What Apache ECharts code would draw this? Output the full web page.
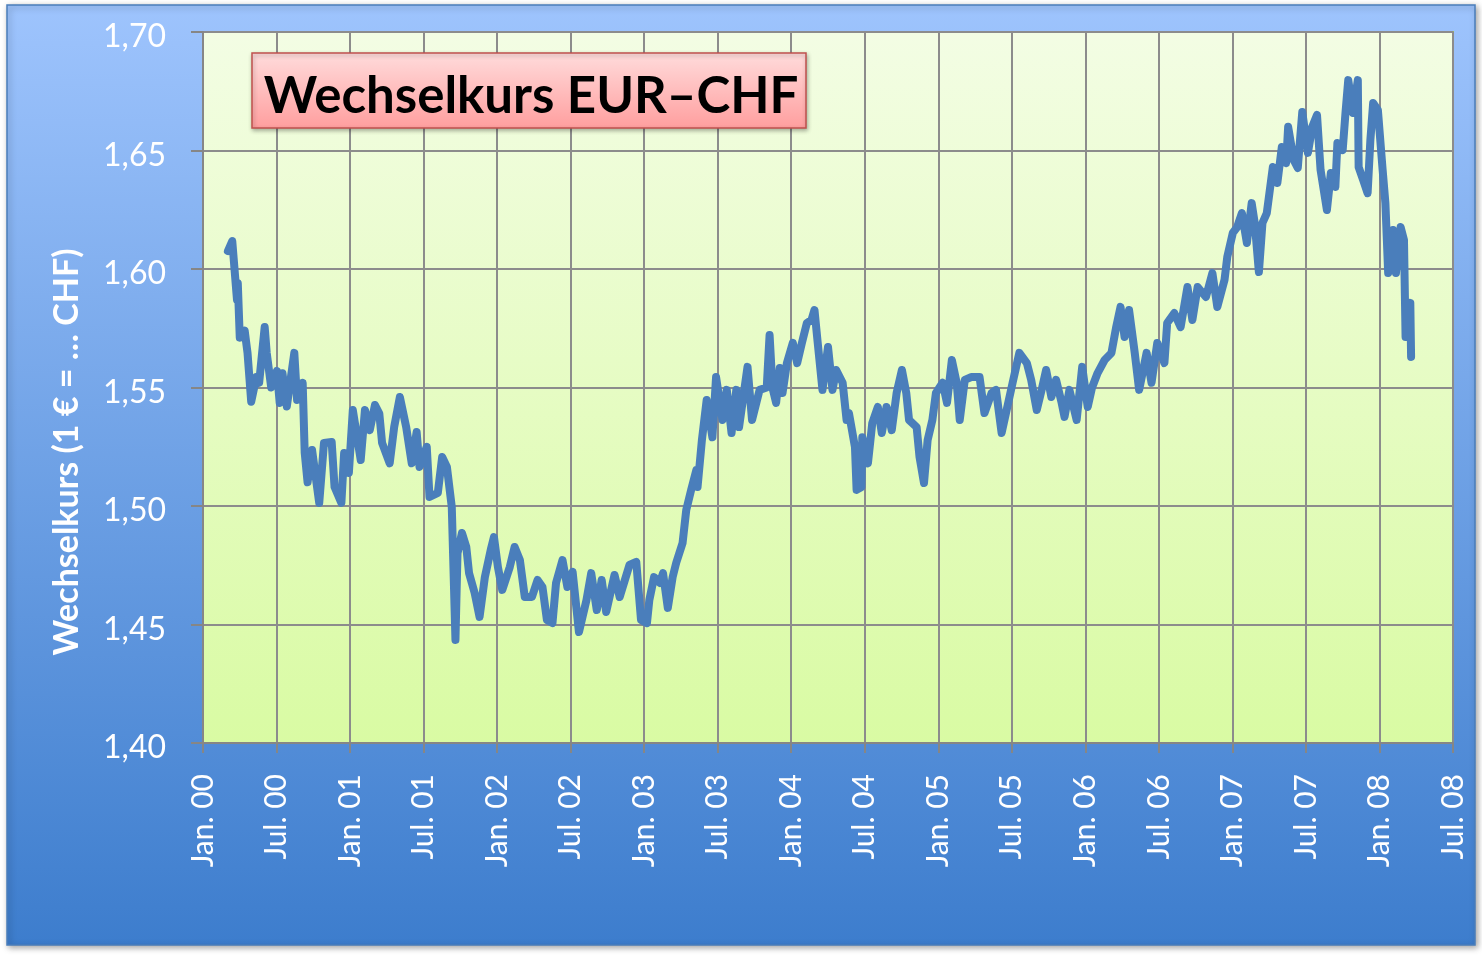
<!DOCTYPE html>
<html><head><meta charset="utf-8">
<script src="https://cdn.jsdelivr.net/npm/echarts@6/dist/echarts.min.js"></script>
<style>html,body{margin:0;padding:0;background:#fff}#c{width:1482px;height:956px}</style>
</head><body><div id="c"></div>
<script>
const titleText = 'Wechselkurs EUR\u2013CHF';
const yAxisTitle = 'Wechselkurs (1 \u20ac = \u2026 CHF)';
const xTickLabels = ['Jan. 00','Jul. 00','Jan. 01','Jul. 01','Jan. 02','Jul. 02','Jan. 03','Jul. 03','Jan. 04','Jul. 04','Jan. 05','Jul. 05','Jan. 06','Jul. 06','Jan. 07','Jul. 07','Jan. 08','Jul. 08'];
const yTicks = [1.40,1.45,1.50,1.55,1.60,1.65,1.70];

const dates2000 = ['2000-03-02','2000-03-13','2000-03-25','2000-03-27','2000-04-01','2000-04-13','2000-04-20','2000-04-29','2000-05-12','2000-05-19','2000-06-02','2000-06-07','2000-06-18','2000-07-02','2000-07-09','2000-07-16','2000-07-27','2000-08-15','2000-08-22','2000-09-05','2000-09-10','2000-09-17','2000-09-28','2000-10-16','2000-10-28','2000-11-16','2000-11-23','2000-12-10','2000-12-17','2000-12-29'];
const rates2000 = [1.6076,1.6118,1.587,1.594,1.571,1.574,1.5646,1.544,1.5544,1.552,1.5755,1.5646,1.550,1.557,1.5435,1.556,1.542,1.5646,1.5447,1.552,1.5224,1.510,1.5236,1.5013,1.5266,1.527,1.508,1.5013,1.5224,1.514];

const dates2001 = ['2001-01-08','2001-01-28','2001-02-07','2001-02-18','2001-03-02','2001-03-13','2001-03-20','2001-04-08','2001-04-19','2001-05-03','2001-05-19','2001-06-02','2001-06-14','2001-06-21','2001-07-09','2001-07-16','2001-08-06','2001-08-17','2001-08-29','2001-09-10','2001-09-19','2001-09-24','2001-10-05','2001-10-16','2001-10-23','2001-11-06','2001-11-18','2001-12-01','2001-12-17','2001-12-24'];
const rates2001 = [1.5405,1.5194,1.5405,1.532,1.5426,1.539,1.5266,1.518,1.5333,1.546,1.5333,1.518,1.5312,1.5165,1.525,1.5038,1.5055,1.5207,1.5165,1.4996,1.4435,1.480,1.4886,1.4827,1.4717,1.4633,1.4532,1.470,1.4823,1.4869];

const dates2002 = ['2002-01-03','2002-01-14','2002-02-02','2002-02-13','2002-02-25','2002-03-09','2002-03-27','2002-04-10','2002-04-22','2002-05-03','2002-05-17','2002-05-26','2002-06-11','2002-06-23','2002-07-06','2002-07-22','2002-08-10','2002-08-22','2002-09-05','2002-09-17','2002-09-28','2002-10-19','2002-11-01','2002-11-25','2002-12-12','2002-12-24'];
const rates2002 = [1.4743,1.4646,1.4743,1.4827,1.4772,1.4616,1.4616,1.4688,1.4658,1.4519,1.4506,1.4675,1.4772,1.4658,1.4722,1.4468,1.4603,1.4717,1.4561,1.4688,1.4553,1.4709,1.4616,1.4751,1.4764,1.4519];

const dates2003 = ['2003-01-08','2003-01-14','2003-01-26','2003-02-09','2003-02-16','2003-02-27','2003-03-11','2003-03-20','2003-04-05','2003-04-14','2003-04-26','2003-05-09','2003-05-12','2003-05-23','2003-06-04','2003-06-18','2003-06-27','2003-07-13','2003-07-24','2003-08-05','2003-08-17','2003-08-24','2003-09-14','2003-09-25','2003-10-14','2003-11-01','2003-11-08','2003-11-15','2003-11-24','2003-12-03','2003-12-10','2003-12-21'];
const rates2003 = [1.4506,1.4603,1.470,1.4675,1.4717,1.457,1.470,1.476,1.4844,1.4983,1.5068,1.5152,1.508,1.5278,1.5447,1.529,1.5544,1.5363,1.549,1.5308,1.549,1.5333,1.5587,1.5363,1.549,1.550,1.5722,1.550,1.5435,1.5582,1.5477,1.5603];

const dates2004 = ['2004-01-05','2004-01-16','2004-01-28','2004-02-09','2004-02-20','2004-02-27','2004-03-06','2004-03-18','2004-04-01','2004-04-12','2004-04-21','2004-05-07','2004-05-17','2004-05-23','2004-06-07','2004-06-11','2004-06-23','2004-06-25','2004-07-09','2004-07-20','2004-08-03','2004-08-13','2004-08-25','2004-09-07','2004-09-19','2004-10-02','2004-10-13','2004-10-20','2004-11-08','2004-11-15','2004-11-26','2004-12-05','2004-12-17','2004-12-26'];
const rates2004 = [1.5688,1.5603,1.5688,1.5772,1.5785,1.5827,1.5688,1.549,1.5671,1.549,1.5574,1.552,1.5363,1.5392,1.5249,1.5068,1.508,1.529,1.518,1.535,1.5418,1.5308,1.5418,1.532,1.5477,1.5574,1.5477,1.5363,1.5333,1.5207,1.5097,1.5278,1.5363,1.5477];

const dates2005 = ['2005-01-12','2005-01-23','2005-02-04','2005-02-15','2005-02-22','2005-03-06','2005-03-22','2005-04-12','2005-04-24','2005-05-12','2005-05-23','2005-06-06','2005-06-20','2005-07-03','2005-07-20','2005-08-08','2005-08-19','2005-09-02','2005-09-14','2005-09-25','2005-10-08','2005-10-20','2005-11-03','2005-11-10','2005-11-22','2005-12-10','2005-12-24'];
const rates2005 = [1.552,1.5435,1.5616,1.552,1.5363,1.5532,1.5544,1.5544,1.5392,1.5477,1.549,1.5308,1.5418,1.552,1.5646,1.5603,1.5532,1.5405,1.549,1.5574,1.546,1.5532,1.5435,1.5376,1.549,1.5363,1.5587];

const dates2006 = ['2006-01-07','2006-01-18','2006-02-01','2006-02-17','2006-03-05','2006-03-17','2006-03-28','2006-04-07','2006-04-18','2006-05-02','2006-05-13','2006-06-01','2006-06-13','2006-06-27','2006-07-15','2006-07-22','2006-08-09','2006-08-25','2006-09-11','2006-09-23','2006-10-06','2006-10-27','2006-11-12','2006-11-24','2006-12-12','2006-12-19'];
const rates2006 = [1.5418,1.550,1.5561,1.5616,1.5646,1.5755,1.584,1.5713,1.5827,1.5645,1.549,1.5646,1.552,1.5688,1.5603,1.5772,1.5814,1.5755,1.5924,1.5785,1.5924,1.5882,1.5983,1.584,1.5954,1.6051];

const dates2007 = ['2007-01-02','2007-01-13','2007-01-25','2007-02-06','2007-02-17','2007-02-24','2007-03-06','2007-03-15','2007-03-26','2007-04-10','2007-04-21','2007-05-02','2007-05-13','2007-05-18','2007-06-01','2007-06-11','2007-06-22','2007-07-06','2007-07-17','2007-07-29','2007-08-07','2007-08-23','2007-09-02','2007-09-13','2007-09-18','2007-10-01','2007-10-08','2007-10-15','2007-10-27','2007-11-08','2007-11-10','2007-11-21','2007-12-02','2007-12-09','2007-12-16','2007-12-28'];
const rates2007 = [1.6152,1.6177,1.6236,1.611,1.6278,1.6194,1.5987,1.6194,1.6236,1.643,1.6363,1.6515,1.6447,1.660,1.646,1.6426,1.6662,1.649,1.660,1.665,1.6418,1.6249,1.6405,1.6346,1.6532,1.6502,1.6658,1.6797,1.6658,1.6797,1.643,1.6376,1.632,1.6544,1.670,1.6671];

const dates2008 = ['2008-01-09','2008-01-16','2008-01-23','2008-02-04','2008-02-11','2008-02-22','2008-03-01','2008-03-05','2008-03-17','2008-03-19'];
const rates2008 = [1.6418,1.6278,1.5983,1.6165,1.5983,1.6177,1.6122,1.5713,1.5857,1.5629];

const allDates = [].concat(dates2000,dates2001,dates2002,dates2003,dates2004,dates2005,dates2006,dates2007,dates2008);
const allRates = [].concat(rates2000,rates2001,rates2002,rates2003,rates2004,rates2005,rates2006,rates2007,rates2008);

// months since Jan 2000 (value axis in months, labels every 6 months)
function monthIndex(s){
  const p = s.split('-').map(Number);
  const dim = new Date(p[0], p[1], 0).getDate();
  return (p[0]-2000)*12 + (p[1]-1) + (p[2]-1)/dim;
}
const seriesData = allDates.map((d,i)=>[monthIndex(d), allRates[i]]);

const FONT = 'Lato';
const chart = echarts.init(document.getElementById('c'), null, {renderer:'canvas'});
chart.setOption({
  backgroundColor: '#ffffff',
  animation: false,
  graphic: [
    {
      type: 'rect', z: -10, silent: true,
      shape: {x: 7, y: 5, width: 1468, height: 940},
      style: {
        fill: new echarts.graphic.LinearGradient(0,0,0,1,[{offset:0,color:'#9ec4fd'},{offset:1,color:'#3d7dcd'}]),
        stroke: '#4a7ebb', lineWidth: 1.5,
        shadowBlur: 6, shadowColor: 'rgba(0,0,0,0.35)', shadowOffsetX: 2, shadowOffsetY: 2
      }
    },
    {
      type: 'text', z: 10, silent: true, x: 67, y: 452, rotation: Math.PI/2,
      style: { text: yAxisTitle, font: 'bold 34px ' + FONT, fill: '#ffffff', align: 'center', verticalAlign: 'middle' }
    },
    {
      type: 'rect', z: 100, silent: true,
      shape: {x: 252, y: 53, width: 554, height: 75},
      style: {
        fill: new echarts.graphic.LinearGradient(0,0,0,1,[{offset:0,color:'#ffdcdc'},{offset:1,color:'#ff9e9e'}]),
        stroke: '#c0504d', lineWidth: 1.5,
        shadowBlur: 4, shadowColor: 'rgba(0,0,0,0.3)', shadowOffsetX: 1, shadowOffsetY: 2
      }
    },
    {
      type: 'text', z: 101, silent: true, x: 531, y: 97,
      style: { text: titleText, font: 'bold 51px ' + FONT, fill: '#000', align: 'center', verticalAlign: 'middle' }
    }
  ],
  grid: {
    left: 203, top: 32, width: 1250, height: 711,
    show: true,
    backgroundColor: new echarts.graphic.LinearGradient(0,0,0,1,[{offset:0,color:'#f3fde4'},{offset:1,color:'#d9fba3'}]),
    borderColor: '#9bbb59', borderWidth: 2
  },
  xAxis: {
    type: 'value', min: 0, max: 102, interval: 6,
    axisLine: {show: true, lineStyle: {color: '#868686', width: 2}},
    axisTick: {show: true, length: 10, lineStyle: {color: '#868686', width: 2}},
    splitLine: {show: true, lineStyle: {color: '#8c8c8c', width: 2}},
    axisLabel: {
      rotate: 90, margin: 31, color: '#ffffff', fontFamily: FONT, fontSize: 30,
      formatter: v => xTickLabels[Math.round(v/6)]
    }
  },
  yAxis: {
    type: 'value', min: yTicks[0], max: yTicks[yTicks.length-1], interval: 0.05,
    axisLine: {show: true, lineStyle: {color: '#868686', width: 2}},
    axisTick: {show: true, length: 12, lineStyle: {color: '#868686', width: 2}},
    splitLine: {show: true, lineStyle: {color: '#8c8c8c', width: 2}},
    axisLabel: {
      margin: 37, color: '#ffffff', fontFamily: FONT, fontSize: 32,
      formatter: v => '{t|' + v.toFixed(2).replace('.', ',') + '}',
      rich: { t: { color: '#ffffff', fontFamily: FONT, fontSize: 32, padding: [10, 0, 0, 0] } }
    }
  },
  series: [{
    type: 'line', data: seriesData, showSymbol: false, smooth: false,
    lineStyle: {color: '#4a7ebb', width: 8, join: 'round', cap: 'round'},
    z: 5
  }]
});
</script></body></html>
